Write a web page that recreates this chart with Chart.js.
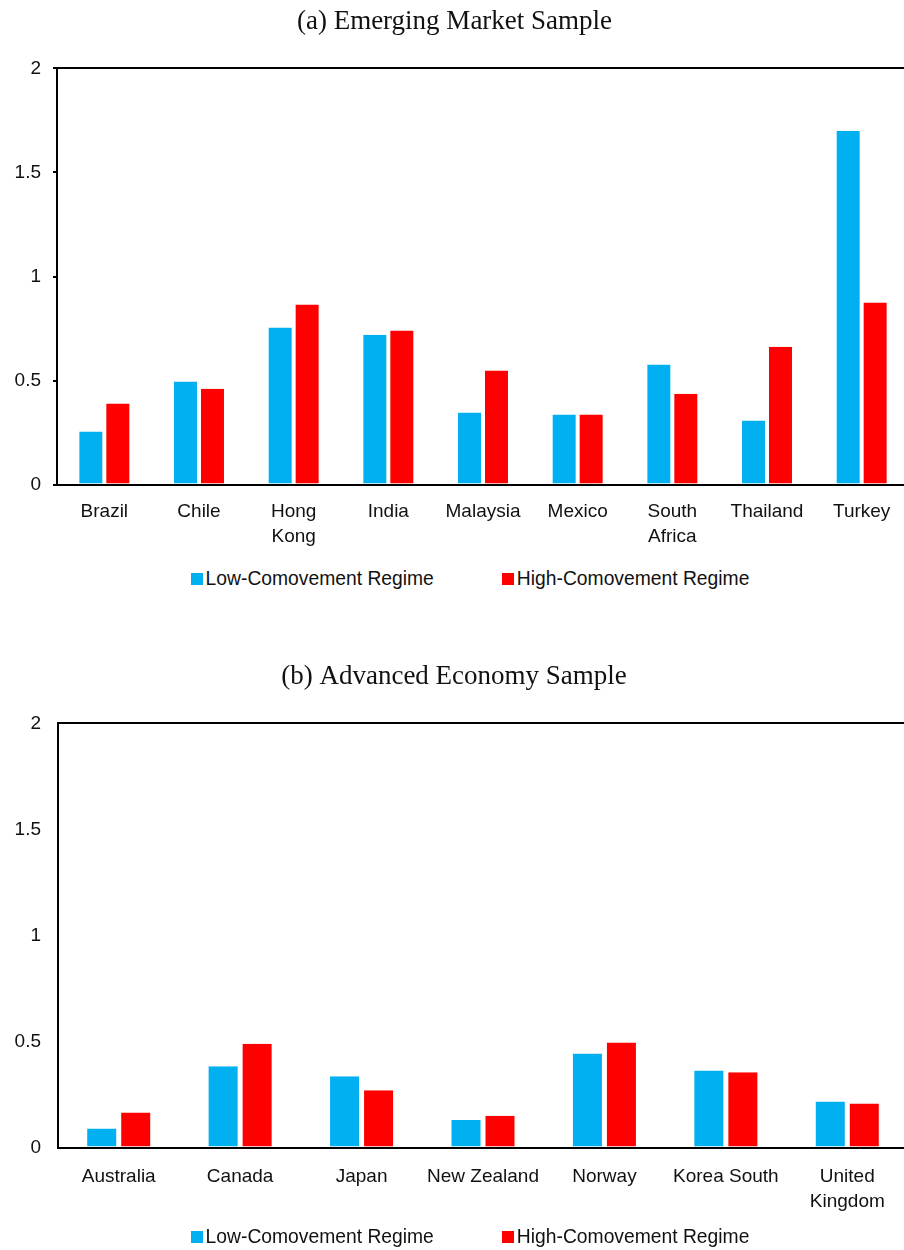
<!DOCTYPE html>
<html>
<head>
<meta charset="utf-8">
<script src="https://cdn.jsdelivr.net/npm/chart.js@4.4.1/dist/chart.umd.min.js"></script>
<style>
  html, body { margin: 0; padding: 0; background: #fff; }
  body { width: 904px; height: 1250px; position: relative; overflow: hidden; }
  .panel { position: absolute; left: 0; width: 904px; overflow: hidden; }
  .legend { position: absolute; left: 6px; width: 928px; display: flex; justify-content: center;
            font: 19.3px "Liberation Sans", Arial, sans-serif; color: #111; }
  .legend span.item { display: inline-flex; align-items: center; margin: 0 34px; }
  .legend i { display: inline-block; width: 12px; height: 12px; margin-right: 3px; }
</style>
</head>
<body>
<div class="panel" id="panelA" style="top:0;height:565px"><canvas id="chartA" width="928" height="564"></canvas></div>
<div class="legend" id="legendA" style="top:568px"></div>
<div class="panel" id="panelB" style="top:625px;height:607px"><canvas id="chartB" width="928" height="606"></canvas></div>
<div class="legend" id="legendB" style="top:1226px"></div>
<script>
// ─── Data ───────────────────────────────────────────────────────────────────
const seriesNames = ['Low-Comovement Regime', 'High-Comovement Regime'];
const seriesColors = ['#00B0F0', '#FF0000'];

const emergingCountries = ['Brazil', 'Chile', ['Hong', 'Kong'], 'India', 'Malaysia', 'Mexico', ['South', 'Africa'], 'Thailand', 'Turkey'];
const emergingLow  = [0.255, 0.495, 0.755, 0.72, 0.346, 0.337, 0.577, 0.308, 1.70];
const emergingHigh = [0.39, 0.46, 0.865, 0.74, 0.548, 0.337, 0.437, 0.663, 0.875];

const advancedCountries = ['Australia', 'Canada', 'Japan', 'New Zealand', 'Norway', 'Korea South', ['United', 'Kingdom']];
const advancedLow  = [0.09, 0.383, 0.336, 0.13, 0.444, 0.364, 0.217];
const advancedHigh = [0.165, 0.49, 0.27, 0.15, 0.496, 0.355, 0.208];

const yTicks = [0, 0.5, 1, 1.5, 2];
const yTickLabels = ['0', '0.5', '1', '1.5', '2'];

const FONT = '"Liberation Sans", Arial, sans-serif';
const SERIF = '"Liberation Serif", "DejaVu Serif", serif';

// ─── Chart builder ──────────────────────────────────────────────────────────
function makeChart(canvasId, cfg) {
  const ctx = document.getElementById(canvasId).getContext('2d');
  const datasets = [cfg.low, cfg.high].map((data, i) => ({
    label: seriesNames[i],
    data: data,
    backgroundColor: seriesColors[i],
    borderColor: '#ffffff',
    borderWidth: { left: cfg.gap, right: cfg.gap, top: 0, bottom: 0 },
    borderSkipped: false,
    barPercentage: 1,
    categoryPercentage: cfg.catPct,
  }));

  return new Chart(ctx, {
    type: 'bar',
    data: { labels: cfg.labels, datasets },
    options: {
      responsive: false,
      animation: false,
      layout: { padding: { left: 0, right: cfg.padRight, top: 0, bottom: 0 } },
      plugins: {
        legend: { display: false },
        tooltip: { enabled: false },
        title: {
          display: true,
          text: cfg.title,
          color: '#111',
          font: { family: SERIF, size: 27, weight: 'normal', lineHeight: 1.2 },
          padding: { top: cfg.titleTop, bottom: cfg.titleBottom },
        },
      },
      scales: {
        x: {
          grid: { display: false, drawTicks: false },
          border: { display: true, color: '#000', width: 2, z: 1 },
          ticks: { color: '#111', font: { family: FONT, size: 19, lineHeight: 1.3 }, padding: cfg.xPad, maxRotation: 0, autoSkip: false },
        },
        y: {
          min: 0,
          max: 2,
          afterBuildTicks: (s) => { s.ticks = yTicks.map(v => ({ value: v })); },
          afterFit: (s) => { s.width = cfg.left; },
          grid: {
            drawTicks: cfg.yTicks,
            tickLength: 4,
            tickColor: '#000',
            lineWidth: 2,
            color: (c) => (c.tick && c.tick.value === 2 ? '#000' : 'rgba(0,0,0,0)'),
          },
          border: { display: true, color: '#000', width: 2 },
          ticks: {
            color: '#111',
            font: { family: FONT, size: 19 },
            padding: cfg.yPad,
            callback: (v, i) => yTickLabels[i],
          },
        },
      },
    },
  });
}

function makeLegend(id) {
  const el = document.getElementById(id);
  seriesNames.forEach((name, i) => {
    const item = document.createElement('span');
    item.className = 'item';
    item.innerHTML = '<i style="background:' + seriesColors[i] + '"></i>' + name;
    el.appendChild(item);
  });
}

makeChart('chartA', {
  title: '(a) Emerging Market Sample',
  labels: emergingCountries, low: emergingLow, high: emergingHigh,
  titleTop: 6, titleBottom: 30, left: 57, padRight: 19,
  xPad: 15, yPad: 12, yTicks: true, gap: 2, catPct: 0.57,
});

makeChart('chartB', {
  title: '(b) Advanced Economy Sample',
  labels: advancedCountries, low: advancedLow, high: advancedHigh,
  titleTop: 36, titleBottom: 30, left: 58, padRight: 20,
  xPad: 17, yPad: 17, yTicks: false, gap: 2.5, catPct: 0.56,
});

makeLegend('legendA');
makeLegend('legendB');
</script>
</body>
</html>
